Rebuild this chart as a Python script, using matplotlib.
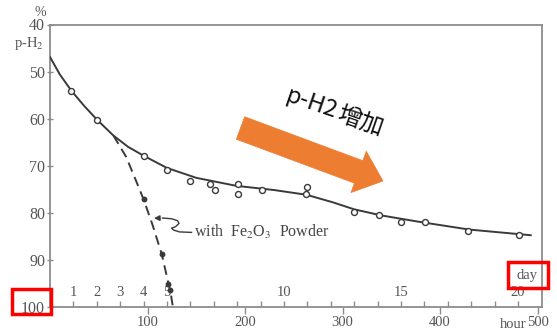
import matplotlib
matplotlib.use("Agg")
import matplotlib.pyplot as plt
import matplotlib.patches as mpatches
import matplotlib.transforms as mtransforms
import numpy as np

# ---------------- data ----------------
# open circles: plain p-H2 conversion (hour, % p-H2)
obs_hours = [22, 48, 96, 120, 144, 164, 169, 193, 193, 217, 264, 263, 312, 337, 360, 385, 429, 481]
obs_pct = [54.1, 60.2, 68.0, 71.0, 73.2, 73.9, 75.1, 73.9, 76.1, 75.1, 74.6, 76.0, 79.9, 80.4, 82.0, 82.0, 84.0, 84.7]

# fitted solid curve
fit_hours = [0, 10, 22, 35, 48, 65, 80, 96, 120, 150, 191, 230, 263, 290, 312, 340, 380, 430, 493]
fit_pct = [46.9, 50.6, 54.1, 57.3, 60.2, 63.6, 66.0, 67.9, 70.5, 72.6, 74.3, 75.2, 76.2, 77.8, 79.3, 80.6, 82.0, 83.6, 84.8]

# with Fe2O3 powder (dashed) and its filled points
fe_hours = [65, 78, 88, 96, 105, 114.7, 121.5, 123.3, 126]
fe_pct = [63.6, 68.1, 73.1, 77.2, 82.5, 88.9, 95.1, 96.5, 100]
fe_pt_hours = [96, 114.7, 121.5, 123.3]
fe_pt_pct = [77.2, 88.9, 95.1, 96.5]

y_ticks = [40, 50, 60, 70, 80, 90, 100]
hour_ticks = [100, 200, 300, 400, 500]
day_labels = [1, 2, 3, 4, 5, 10, 15, 20]
n_days = 20

W, H = 557, 333
fig = plt.figure(figsize=(W / 100, H / 100), dpi=100)
fig.patch.set_facecolor("white")

serif = ["Liberation Serif", "DejaVu Serif"]
plt.rcParams["mathtext.fontset"] = "stix"

ax_l, ax_r, ax_t, ax_b = 50, 542, 24.5, 306.7
ax = fig.add_axes([ax_l / W, (H - ax_b) / H, (ax_r - ax_l) / W, (ax_b - ax_t) / H])
ax.set_xlim(0, 504.6)
ax.set_ylim(100, 40)

line_c = "#3a3a3a"
spine_c = "#8c8c8c"
txt_c = "#555555"

for s in ax.spines.values():
    s.set_color(spine_c)
    s.set_linewidth(1.3)

ax.plot(fit_hours, fit_pct, color=line_c, lw=1.4, zorder=3)
ax.plot(fe_hours, fe_pct, color=line_c, lw=1.4, ls=(0, (5, 3)), zorder=3)
ax.plot(obs_hours, obs_pct, 'o', ms=4.3, mfc="white", mec=line_c, mew=1.0, zorder=4)
ax.plot(fe_pt_hours, fe_pt_pct, 'o', ms=3.2, mfc=line_c, mec=line_c, zorder=4)

# y axis
ax.set_yticks(y_ticks)
ax.set_yticklabels([str(v) for v in y_ticks], fontfamily=serif, fontsize=11.5, color=txt_c)
ax.tick_params(axis="y", direction="inout", length=5, width=1, color=spine_c, pad=1)

# x axis: hour ticks down, day ticks up
ax.set_xticks(hour_ticks)
ax.set_xticklabels([str(v) for v in hour_ticks], fontfamily=serif, fontsize=10.5, color=txt_c)
ax.tick_params(axis="x", which="major", direction="out", length=5, width=1, color=spine_c, pad=2)
ax.set_xticks([24 * d for d in range(1, n_days + 1)], minor=True)
ax.tick_params(axis="x", which="minor", direction="in", length=4, width=1, color=spine_c)
ax.tick_params(top=False, right=False)

for d in day_labels:
    ax.text(24 * d, 98.3, str(d), ha="center", va="bottom", fontfamily=serif,
            fontsize=10.5, color=txt_c)

# axis captions
fig.text(40 / W, 1 - 12 / H, "%", ha="center", va="center", fontfamily=serif, fontsize=10, color=txt_c)
fig.text(29 / W, 1 - 43 / H, r"p-H$_2$", ha="center", va="center", fontfamily=serif, fontsize=10.5, color=txt_c)
fig.text(513 / W, 1 - 325 / H, "hour", ha="center", va="center", fontfamily=serif, fontsize=10.5, color=txt_c)
fig.text(527 / W, 1 - 276 / H, "day", ha="center", va="center", fontfamily=serif, fontsize=10.5, color=txt_c)

# annotation with squiggly leader
sq_x = [115.4, 124.6, 130.8, 132.3, 128.7, 124.6, 126.7, 132.8, 145.1]
sq_y = [81.15, 81.3, 81.7, 82.3, 83.0, 83.3, 83.7, 84.1, 84.2]
ax.plot(sq_x, sq_y, color=line_c, lw=1.0, zorder=3)
ax.annotate("", xy=(103.8, 81.2), xytext=(115.4, 81.15),
            arrowprops=dict(arrowstyle="-|>", color=line_c, lw=1.0, mutation_scale=8))
ax.text(148, 84.2, r"with  Fe$_2$O$_3$  Powder", ha="left", va="center", fontfamily=serif,
        fontsize=11.5, color="#444444")

# red boxes
for (x0, y0, x1, y1) in [(508, 262, 548, 288), (12, 289, 51, 314)]:
    fig.add_artist(mpatches.Rectangle((x0, H - y1), x1 - x0, y1 - y0, fill=False,
                                      ec="#ff0000", lw=2.5, transform=mtransforms.IdentityTransform(),
                                      zorder=10))

# orange block arrow
tx, ty = 240.5, 128
hx, hy = 383, 181
fig.add_artist(mpatches.FancyArrow(tx, H - ty, hx - tx, -(hy - ty), width=24, head_width=44,
                                   head_length=26, length_includes_head=True, fc="#ed7d31",
                                   ec="#ed7d31", lw=0.5, transform=mtransforms.IdentityTransform(),
                                   zorder=10))

# label split in two parts so the glyphs do not collide
cjk = ["Noto Sans CJK JP", "DejaVu Sans"]
fig.text(335 / W, 1 - 119 / H, "p-H2", ha="right", va="baseline", rotation=-19,
         rotation_mode="anchor", fontfamily=cjk, fontsize=17, color="#111111")
fig.text(336 / W, 1 - 119.3 / H, "增加", ha="left", va="baseline", rotation=-19,
         rotation_mode="anchor", fontfamily=cjk, fontsize=17, color="#111111")

fig.savefig("out.png", dpi=100)
